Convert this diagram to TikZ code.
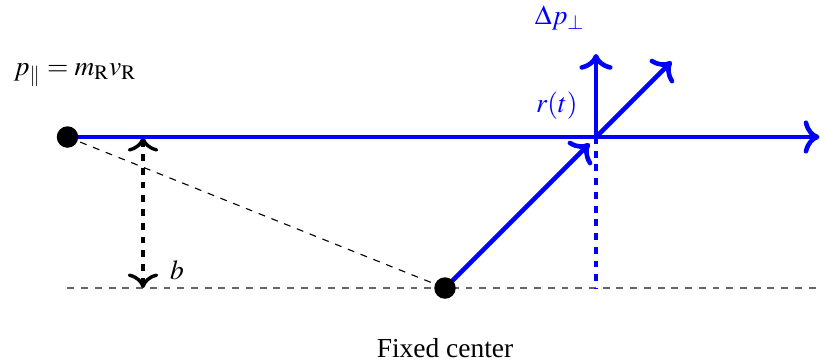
\documentclass[tikz,border=0pt]{standalone}
\usepackage{mathptmx}
\usepackage{fontspec}
\setmainfont{Liberation Serif}
\usetikzlibrary{arrows.meta}
\tikzset{
  path/.style={-{To[scale=1.15]}, line width=2pt, blue},
  ball/.style={circle, fill=black, inner sep=0pt, minimum size=0.33cm}
}
\begin{document}
\begin{tikzpicture}[x=1.16cm,y=1.16cm,font=\large]
  \useasboundingbox (-5.894,-0.967) rectangle (4.967,3.815);

  \coordinate (axL) at (-5,0);
  \coordinate (axR) at (5,0);
  \coordinate (hit) at (2,2);
  \coordinate (far) at (4.96,2);
  \coordinate (bTop) at (-4,2);
  \coordinate (bBot) at (-4,0);
  \coordinate (kick) at (2,3.1);
  \coordinate (out) at (3,3);
  \coordinate (foot) at (2,0);

  \draw[dashed, gray!80!black, line width=0.5pt] (axL) -- (axR);
  \draw[dashed, line width=0.5pt] (-5,2) -- (0,0);
  \draw[{To[scale=1.3]}-{To[scale=1.3]}, line width=1.5pt, dashed] (bTop) -- (bBot);
  \node (b) at (-3.55,0.23) {$b$};

  \draw[path] (-5,2) -- (far);
  \draw[path, shorten >=4pt] (0,0) -- (hit);
  \draw[path] (hit) -- (kick);
  \draw[path] (hit) -- (out);
  \draw[line width=2pt, blue, dashed] (hit) -- (foot);

  \node[ball] (red) at (-5,2) {};
  \node[ball] (ctr) at (0,0) {};

  \node (pp) at (-4.9,2.82) {$p_{\parallel} = m_{\mathrm{R}} v_{\mathrm{R}}$};
  \node[blue] (dp) at (1.52,3.58) {$\Delta p_{\perp}$};
  \node[blue] (rt) at (1.48,2.41) {$r(t)$};
  \node (fc) at (0,-0.79) {Fixed center};
\end{tikzpicture}
\end{document}
